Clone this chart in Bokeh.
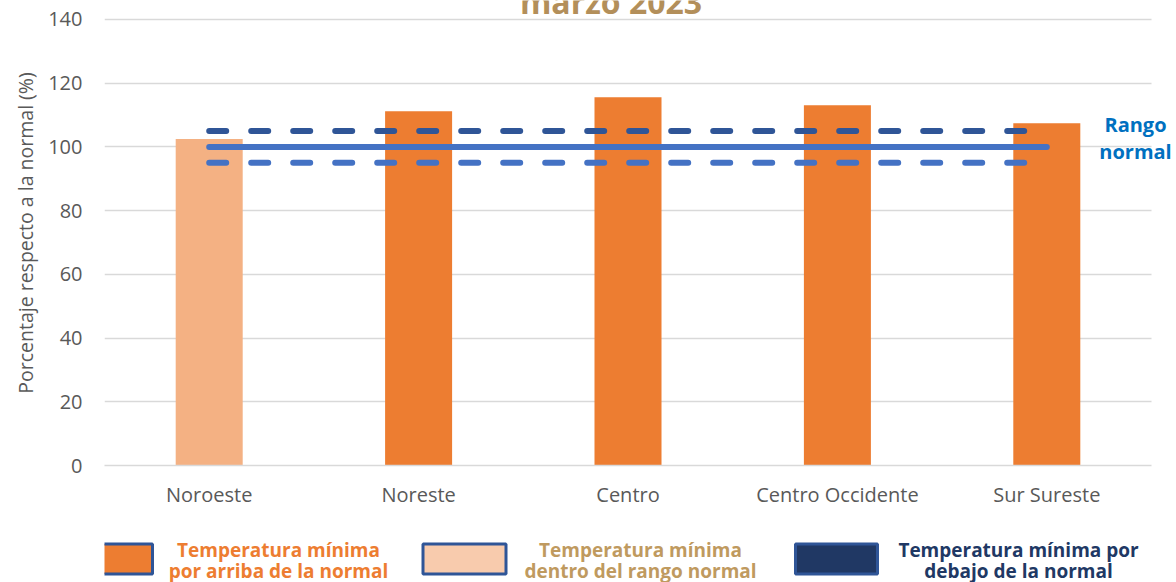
from bokeh.plotting import figure
from bokeh.models import Range1d, FixedTicker, Label, ColumnDataSource, Grid
from bokeh.layouts import column
from bokeh.embed import file_html
from bokeh.resources import INLINE
from bokeh.core.properties import value

# ---- data ----
regions = ["Noroeste", "Noreste", "Centro", "Centro Occidente", "Sur Sureste"]
pct_normal = [102.5, 111.2, 115.6, 113.1, 107.4]
normal_value = 100
range_low = 95
range_high = 105
y_ticks = [0, 20, 40, 60, 80, 100, 120, 140]
y_max = 140
title_text = "marzo 2023"
y_label = "Porcentaje respecto a la normal (%)"
range_label_lines = ["Rango", "normal"]
legend_labels = [
    "Temperatura mínima\npor arriba de la normal",
    "Temperatura mínima\ndentro del rango normal",
    "Temperatura mínima por\ndebajo de la normal",
]

# ---- styles / layout ----
C_ABOVE = "#ED7D31"
C_WITHIN = "#F4B183"
C_BELOW = "#203864"
FONT = "Open Sans"

W, H_MAIN, H_LEG = 1176, 510, 72
LEFT = 104            # frame left edge (px)
ZERO_Y = 466          # pixel row of value 0
PLOT_H = 447          # px between 0 and 140
CAT_PX = 209.4        # px per category
PX_Y = PLOT_H / y_max

n = len(regions)
idx = list(range(n))
colors = [C_WITHIN if range_low <= v <= range_high else (C_ABOVE if v > range_high else C_BELOW)
          for v in pct_normal]

x_hi = -0.5 + (W - LEFT) / CAT_PX
y_hi = ZERO_Y / PX_Y

def px_x(px):
    return -0.5 + (px - LEFT) / CAT_PX

def px_y(py):
    return (ZERO_Y - py) / PX_Y

p = figure(width=W, height=H_MAIN, output_backend="svg", toolbar_location=None,
           x_range=Range1d(-0.5, x_hi), y_range=Range1d(0, y_hi),
           min_border_left=LEFT, min_border_right=0, min_border_top=0,
           min_border_bottom=H_MAIN - ZERO_Y)
p.outline_line_color = None
p.background_fill_color = "white"
p.border_fill_color = "white"

src = ColumnDataSource(dict(x=idx, top=pct_normal, color=colors))
p.vbar(x="x", top="top", width=0.32, fill_color="color", line_color=None, source=src)

# normal range lines
first, last = idx[0], idx[-1]
p.segment(x0=[first], y0=[range_high], x1=[last - 0.05], y1=[range_high], line_color="#2F5597",
          line_width=6, line_dash="17 25", line_cap="round")
p.segment(x0=[first], y0=[range_low], x1=[last - 0.05], y1=[range_low], line_color="#4472C4",
          line_width=6, line_dash="17 25", line_cap="round")
p.segment(x0=[first], y0=[normal_value], x1=[last], y1=[normal_value], line_color="#4472C4",
          line_width=6, line_cap="round")

# axes
p.xaxis.ticker = FixedTicker(ticks=idx)
p.xaxis.major_label_overrides = {i: r for i, r in zip(idx, regions)}
p.xaxis.major_tick_line_color = None
p.xaxis.major_tick_out = 0
p.xaxis.minor_tick_line_color = None
p.xaxis.axis_line_color = "#D9D9D9"
p.xaxis.axis_line_width = 1.5
p.xaxis.bounds = (-0.5, n - 0.5)
p.xaxis.major_label_standoff = 15
p.xaxis.major_label_text_font = FONT
p.xaxis.major_label_text_font_size = "20px"
p.xaxis.major_label_text_color = "#595959"

p.yaxis.ticker = FixedTicker(ticks=y_ticks)
p.yaxis.bounds = (0, y_max)
p.yaxis.major_tick_line_color = None
p.yaxis.major_tick_out = 0
p.yaxis.minor_tick_line_color = None
p.yaxis.axis_line_color = None
p.yaxis.major_label_standoff = 22
p.yaxis.major_label_text_font = FONT
p.yaxis.major_label_text_font_size = "20px"
p.yaxis.major_label_text_color = "#595959"
p.yaxis.axis_label = y_label
p.yaxis.axis_label_text_font = FONT
p.yaxis.axis_label_text_font_size = "19.5px"
p.yaxis.axis_label_text_font_style = "normal"
p.yaxis.axis_label_text_color = "#595959"
p.yaxis.axis_label_standoff = 6

p.xgrid.grid_line_color = None
p.ygrid.grid_line_color = "#D9D9D9"
p.ygrid.grid_line_width = 1.5
if "cross_bounds" in Grid.properties():
    p.ygrid.cross_bounds = (-0.5, n - 0.5)

p.add_layout(Label(x=px_x(610.5), y=px_y(1), text=title_text, text_align="center",
                   text_baseline="middle", text_font=FONT, text_font_size="32px",
                   text_font_style="bold", text_color="#B38F5A"))
for txt, py in zip(range_label_lines, [124.5, 151.5]):
    p.add_layout(Label(x=px_x(1135), y=px_y(py), text=txt, text_align="center",
                       text_baseline="middle", text_font=FONT, text_font_size="20px",
                       text_font_style="bold", text_color="#0070C0"))

# ---- legend strip (pixel coordinates) ----
lg = figure(width=W, height=H_LEG, output_backend="svg", toolbar_location=None,
            x_range=Range1d(LEFT, W), y_range=Range1d(H_LEG, 0),
            min_border_left=LEFT, min_border_right=0, min_border_top=0, min_border_bottom=0)
lg.outline_line_color = None
lg.axis.visible = False
lg.grid.visible = False

box_x = [112.5, 464, 836]
box_w = [79, 83, 82]
text_x = [278, 640, 1018]
text_cols = [C_ABOVE, "#BF9A5F", C_BELOW]
fills = [C_ABOVE, "#F8CBAD", C_BELOW]
lg.rect(x=box_x, y=[48.5] * 3, width=box_w, height=30, fill_color=fills,
        line_color="#2F5597", line_width=3)
for tx, lab, col in zip(text_x, legend_labels, text_cols):
    lines = lab.split("\n")
    lg.text(x=[tx] * len(lines), y=[39, 60.5][:len(lines)], text=lines, text_align="center",
            text_baseline="middle", text_font=value(FONT), text_font_size="19px",
            text_font_style="bold", text_color=col)

layout = column(p, lg, spacing=0)
open("out.html", "w").write(file_html(layout, INLINE))
